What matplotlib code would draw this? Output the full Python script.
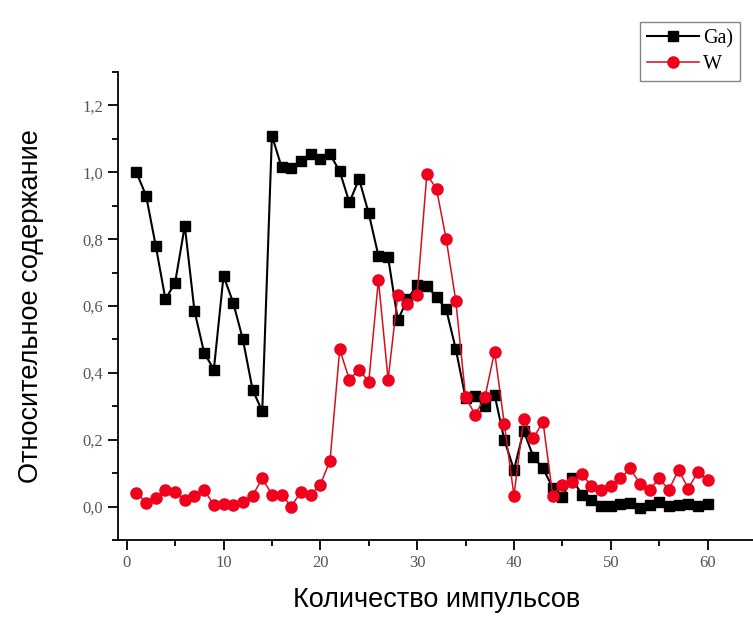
import matplotlib.pyplot as plt
from matplotlib.ticker import MultipleLocator, FuncFormatter

# number of pulses
pulses = list(range(1, 61))

ga = [1.00, 0.93, 0.78, 0.62, 0.67, 0.84, 0.585, 0.46, 0.41, 0.69,
      0.61, 0.50, 0.35, 0.285, 1.11, 1.015, 1.012, 1.035, 1.054, 1.04,
      1.054, 1.003, 0.91, 0.98, 0.877, 0.75, 0.746, 0.558, 0.62, 0.663,
      0.66, 0.627, 0.59, 0.47, 0.325, 0.33, 0.30, 0.334, 0.20, 0.11,
      0.227, 0.149, 0.114, 0.057, 0.03, 0.084, 0.036, 0.021, 0.003, 0.002,
      0.009, 0.012, -0.004, 0.006, 0.015, 0.002, 0.004, 0.009, 0.002, 0.009]

w = [0.042, 0.012, 0.025, 0.05, 0.045, 0.02, 0.033, 0.05, 0.005, 0.007,
     0.005, 0.015, 0.033, 0.084, 0.036, 0.036, 0.0, 0.045, 0.035, 0.066,
     0.137, 0.47, 0.38, 0.41, 0.373, 0.678, 0.38, 0.633, 0.606, 0.633,
     0.994, 0.95, 0.80, 0.614, 0.328, 0.274, 0.328, 0.463, 0.248, 0.033,
     0.263, 0.204, 0.254, 0.033, 0.066, 0.075, 0.096, 0.063, 0.05, 0.063,
     0.084, 0.114, 0.069, 0.05, 0.084, 0.05, 0.11, 0.054, 0.104, 0.08]

fig = plt.figure(figsize=(7.53, 6.17), dpi=100)
ax = fig.add_axes([118/753, 1 - 540/617, 638/753, 468/617])

ax.plot(pulses, ga, "-s", color="black", lw=1.5, markersize=7.5, label="Ga)")
ax.plot(pulses, w, "-o", color="#d4101c", mfc="#f0001c", mec="#f0001c",
        lw=1.1, markersize=8, label="W")

ax.set_xlim(-0.9, 65)
ax.set_ylim(-0.1, 1.3)

ax.spines["top"].set_visible(False)
ax.spines["right"].set_visible(False)
ax.spines["left"].set_linewidth(1.3)
ax.spines["bottom"].set_linewidth(1.3)

ax.xaxis.set_major_locator(MultipleLocator(10))
ax.xaxis.set_minor_locator(MultipleLocator(5))
ax.yaxis.set_major_locator(MultipleLocator(0.2))
ax.yaxis.set_minor_locator(MultipleLocator(0.1))
ax.yaxis.set_major_formatter(FuncFormatter(lambda v, p: ("%.1f" % v).replace(".", ",")))

ax.tick_params(which="major", direction="out", length=7, width=1.3,
               labelsize=12, labelcolor="#555555")
ax.tick_params(which="minor", direction="out", length=4, width=1.3)
for lab in ax.get_xticklabels() + ax.get_yticklabels():
    lab.set_family("Liberation Serif")

ax.set_xlabel("Количество импульсов", fontsize=19.5, family="Liberation Sans", labelpad=12)
ax.set_ylabel("Относительное содержание", fontsize=19.5, family="Liberation Sans", labelpad=28)

leg = fig.legend(loc="upper left", bbox_to_anchor=(640/753, 1 - 22/617),
                 prop={"family": "Liberation Serif", "size": 14.5},
                 frameon=True, fancybox=False, handlelength=2.6,
                 borderpad=0.35, labelspacing=0.35, handletextpad=0.2,
                 borderaxespad=0)
leg.get_frame().set_edgecolor("#666666")
leg.get_frame().set_linewidth(1.0)

fig.savefig("out.png", dpi=100)
